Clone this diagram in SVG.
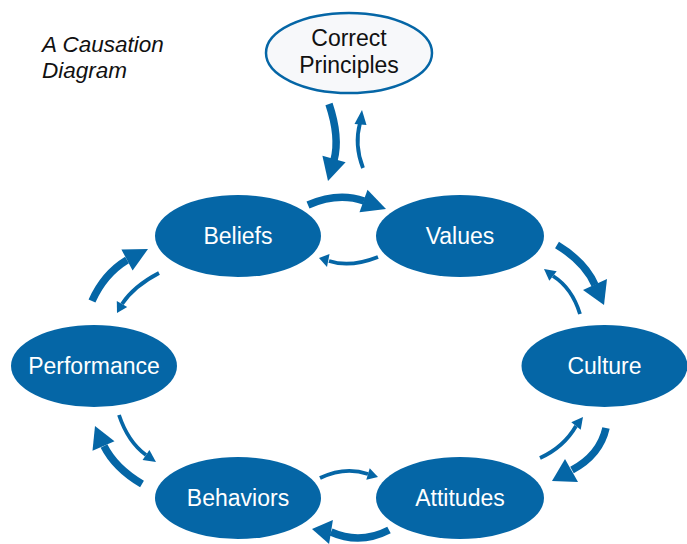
<svg xmlns="http://www.w3.org/2000/svg" width="687" height="544" viewBox="0 0 687 544">
  <style>
    .node { fill: #0566a6; }
    .label { fill: #ffffff; font-family: "Liberation Sans", Arial, sans-serif; font-size: 23px; text-anchor: middle; }
    .root { fill: #f7f8fa; stroke: #0566a6; stroke-width: 2.5; }
    .rootlabel { fill: #111111; font-family: "Liberation Sans", Arial, sans-serif; font-size: 23px; text-anchor: middle; }
    .title { fill: #111111; font-family: "Liberation Sans", Arial, sans-serif; font-size: 22.5px; font-style: italic; }
    .thick { fill: none; stroke: #0566a6; stroke-width: 7.5; }
    .thin { fill: none; stroke: #0566a6; stroke-width: 3.8; }
    .head { fill: #0566a6; }
  </style>

  <rect width="687" height="544" fill="#ffffff"/>

  <g id="title">
    <text class="title" x="42" y="52">A Causation</text>
    <text class="title" x="42" y="78">Diagram</text>
  </g>

  <g id="correct-principles">
    <ellipse class="root" cx="349" cy="53" rx="83" ry="40"/>
    <text class="rootlabel" x="349" y="46">Correct</text>
    <text class="rootlabel" x="349" y="73">Principles</text>
  </g>

  <g id="beliefs">
    <ellipse class="node" cx="238" cy="236" rx="83" ry="41"/>
    <text class="label" x="238" y="244">Beliefs</text>
  </g>

  <g id="values">
    <ellipse class="node" cx="460" cy="236" rx="84" ry="41"/>
    <text class="label" x="460" y="244">Values</text>
  </g>

  <g id="culture">
    <ellipse class="node" cx="604.5" cy="366" rx="83" ry="41"/>
    <text class="label" x="604.5" y="374">Culture</text>
  </g>

  <g id="attitudes">
    <ellipse class="node" cx="460" cy="498" rx="84" ry="41"/>
    <text class="label" x="460" y="506">Attitudes</text>
  </g>

  <g id="behaviors">
    <ellipse class="node" cx="238" cy="498" rx="83" ry="41"/>
    <text class="label" x="238" y="506">Behaviors</text>
  </g>

  <g id="performance">
    <ellipse class="node" cx="94" cy="366" rx="83" ry="41"/>
    <text class="label" x="94" y="374">Performance</text>
  </g>

  <g id="connectors">
    <!-- Correct Principles -> Beliefs -->
    <path class="thick" d="M329,104 C336,125 338,145 334,160"/>
    <polygon class="head" points="328,181 322.4,155.8 345.6,162.2"/>
    <!-- Beliefs -> Correct Principles -->
    <path class="thin" d="M363,168 Q354,145 360,123"/>
    <polygon class="head" points="362,110 354.5,124 366.5,125"/>

    <!-- Beliefs -> Values -->
    <path class="thick" d="M308,205 Q338,192 364,201"/>
    <polygon class="head" points="386,209 367.5,189.7 359.5,212.3"/>
    <!-- Values -> Beliefs -->
    <path class="thin" d="M378,257 Q350,268 329,261"/>
    <polygon class="head" points="319,258 329.5,254 327,267"/>

    <!-- Values -> Culture -->
    <path class="thick" d="M557,245 Q585,262 595,285"/>
    <polygon class="head" points="604,305 583,290 607,279"/>
    <!-- Culture -> Values -->
    <path class="thin" d="M580,314 Q572,288 553,276"/>
    <polygon class="head" points="544,269 556.7,271.3 549.3,280.7"/>

    <!-- Culture -> Attitudes -->
    <path class="thick" d="M606,428 Q600,455 572,470"/>
    <polygon class="head" points="552,481 565,459 578,482"/>
    <!-- Attitudes -> Culture -->
    <path class="thin" d="M540,458 Q564,447 576,426"/>
    <polygon class="head" points="583,417 580.7,429.7 571.3,422.3"/>

    <!-- Attitudes -> Behaviors -->
    <path class="thick" d="M389,530 Q360,545 331,532"/>
    <polygon class="head" points="312,529 332.9,520.1 329.1,543.9"/>
    <!-- Behaviors -> Attitudes -->
    <path class="thin" d="M320,478 Q345,466 368,474"/>
    <polygon class="head" points="378,477 366.3,479.7 369.7,468.3"/>

    <!-- Behaviors -> Performance -->
    <path class="thick" d="M142,484 Q115,468 104,446"/>
    <polygon class="head" points="95,426 114.5,441.3 92.5,450.7"/>
    <!-- Performance -> Behaviors -->
    <path class="thin" d="M119,415 Q128,442 146,455"/>
    <polygon class="head" points="156,462 142.6,459.9 149.4,450.1"/>

    <!-- Performance -> Beliefs -->
    <path class="thick" d="M92,301 Q104,274 127,260"/>
    <polygon class="head" points="148,249 132.6,270.6 121.4,249.4"/>
    <!-- Beliefs -> Performance -->
    <path class="thin" d="M159,273 Q134,286 122,304"/>
    <polygon class="head" points="117,313 127.2,306.9 116.8,301.1"/>
  </g>
</svg>
